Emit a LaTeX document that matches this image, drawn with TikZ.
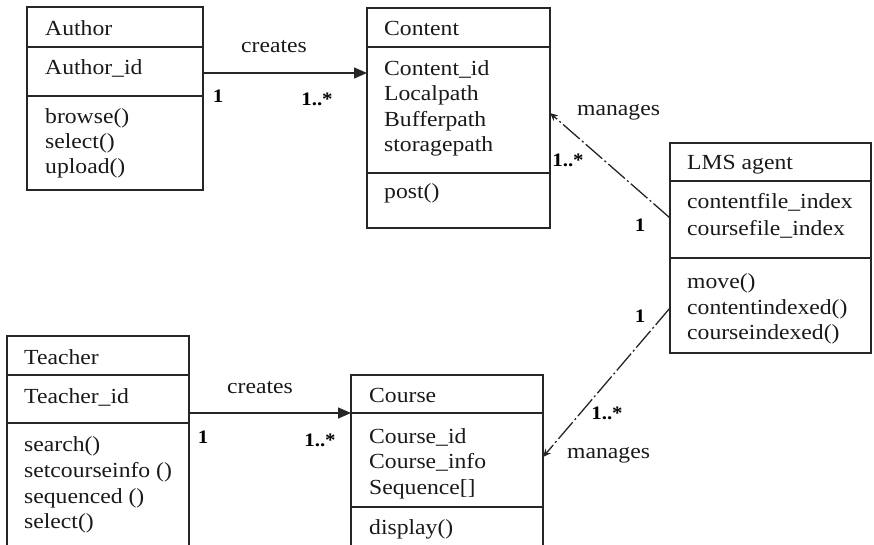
\documentclass[tikz,border=0pt]{standalone}
\usepackage{fontspec}
\setmainfont{Liberation Serif}[FakeStretch=1.1]
\usetikzlibrary{arrows.meta,calc}
\begin{document}
\begin{tikzpicture}[x=1pt,y=-1pt,
  cls/.style={draw=black!85,line width=1.3pt,anchor=north west,inner sep=0pt,outer sep=0pt},
  sepline/.style={draw=black!85,line width=1.3pt},
  txt/.style={anchor=base west,inner sep=0pt,text=black!90,font=\fontsize{21.5pt}{25pt}\selectfont},
  lbl/.style={anchor=center,inner sep=0pt,text=black!90,font=\fontsize{21.5pt}{25pt}\selectfont},
  mult/.style={anchor=center,inner sep=0pt,text=black,font=\fontsize{19pt}{23pt}\selectfont\bfseries},
  createsarrow/.style={draw=black!85,line width=1.4pt,-{Triangle[length=13pt,width=11pt]}},
  managesarrow/.style={draw=black!85,line width=1.3pt,dash pattern=on 22pt off 3pt on 2pt off 3pt,-{Stealth[length=8pt,width=7pt]}}
]
\useasboundingbox (0,0) rectangle (874,545);
\clip (0,0) rectangle (874,545);
% ---------------- class boxes
\node[cls,minimum width=176pt,minimum height=183pt] (author) at (27,7) {};
\node[cls,minimum width=183pt,minimum height=220pt] (content) at (367,8) {};
\node[cls,minimum width=201pt,minimum height=210pt] (lms) at (670,143) {};
\node[cls,minimum width=182pt,minimum height=220pt] (teacher) at (7,336) {};
\node[cls,minimum width=192pt,minimum height=180pt] (course) at (351,375) {};
% compartment separators
\draw[sepline] (author.west |- 0,47) -- (author.east |- 0,47);
\draw[sepline] (author.west |- 0,96) -- (author.east |- 0,96);
\draw[sepline] (content.west |- 0,47) -- (content.east |- 0,47);
\draw[sepline] (content.west |- 0,173) -- (content.east |- 0,173);
\draw[sepline] (lms.west |- 0,181) -- (lms.east |- 0,181);
\draw[sepline] (lms.west |- 0,258) -- (lms.east |- 0,258);
\draw[sepline] (teacher.west |- 0,375) -- (teacher.east |- 0,375);
\draw[sepline] (teacher.west |- 0,423) -- (teacher.east |- 0,423);
\draw[sepline] (course.west |- 0,413) -- (course.east |- 0,413);
\draw[sepline] (course.west |- 0,507) -- (course.east |- 0,507);
% ---------------- texts: Author
\node[txt] (authorname) at (45,36) {Author};
\node[txt] (authorid) at (45,75) {Author\_id};
\node[txt] (authorm1) at (45,124) {browse()};
\node[txt] (authorm2) at (45,149) {select()};
\node[txt] (authorm3) at (45,174) {upload()};
% Content
\node[txt] (contentname) at (384,36) {Content};
\node[txt] (contenta1) at (384,76) {Content\_id};
\node[txt] (contenta2) at (384,101) {Localpath};
\node[txt] (contenta3) at (384,127) {Bufferpath};
\node[txt] (contenta4) at (384,152) {storagepath};
\node[txt] (contentm1) at (384,199) {post()};
% LMS agent
\node[txt] (lmsname) at (687,170) {LMS agent};
\node[txt] (lmsa1) at (687,209) {contentfile\_index};
\node[txt] (lmsa2) at (687,235) {coursefile\_index};
\node[txt] (lmsm1) at (687,288) {move()};
\node[txt] (lmsm2) at (687,314) {contentindexed()};
\node[txt] (lmsm3) at (687,339) {courseindexed()};
% Teacher
\node[txt] (teachername) at (24,364) {Teacher};
\node[txt] (teacherid) at (24,403) {Teacher\_id};
\node[txt] (teacherm1) at (24,451) {search()};
\node[txt] (teacherm2) at (24,477) {setcourseinfo ()};
\node[txt] (teacherm3) at (24,503) {sequenced ()};
\node[txt] (teacherm4) at (24,528) {select()};
% Course
\node[txt] (coursename) at (369,402) {Course};
\node[txt] (coursea1) at (369,443) {Course\_id};
\node[txt] (coursea2) at (369,468) {Course\_info};
\node[txt] (coursea3) at (369,494) {Sequence[]};
\node[txt] (coursem1) at (369,534) {display()};
% ---------------- connectors
\draw[createsarrow] (author.east |- 0,73) -- (content.west |- 0,73);
\draw[createsarrow] (teacher.east |- 0,413) -- (course.west |- 0,413);
\draw[managesarrow] (lms.west |- 0,218) -- (content.east |- 0,113);
\draw[managesarrow] (lms.west |- 0,308) -- (course.east |- 0,457);
% ---------------- connector labels
\node[lbl] (creates1) at (274,47) {creates};
\node[mult] (one1) at (218,96) {1};
\node[mult] (many1) at (317,99) {1..*};
\node[lbl] (creates2) at (260,388) {creates};
\node[mult] (one2) at (203,437) {1};
\node[mult] (many2) at (320,440) {1..*};
\node[lbl,anchor=west] (manages1) at (577,112) {manages};
\node[mult] (many3) at (568,160) {1..*};
\node[mult] (one3) at (640,225) {1};
\node[lbl,anchor=west] (manages2) at (567,455) {manages};
\node[mult] (many4) at (607,413) {1..*};
\node[mult] (one4) at (640,316) {1};
\end{tikzpicture}
\end{document}
